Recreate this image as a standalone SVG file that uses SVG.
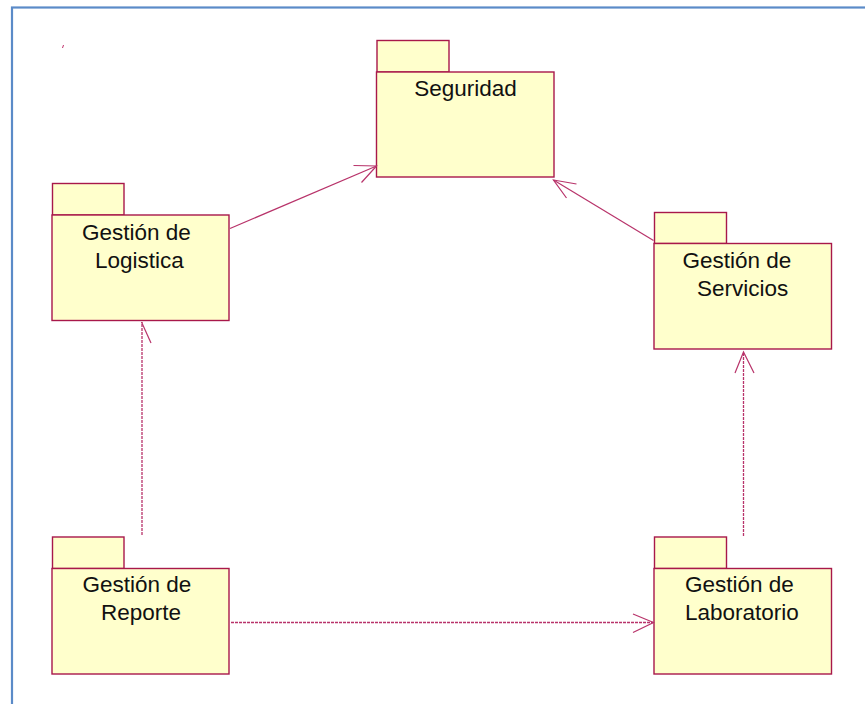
<svg xmlns="http://www.w3.org/2000/svg" width="865" height="704" viewBox="0 0 865 704">
<style>
.pkg{fill:#FFFFCC;stroke:#A8184A;stroke-width:1.4}
.lbl{font-family:"Liberation Sans",Arial,sans-serif;font-size:22.5px;fill:#111}
.con{fill:none;stroke:#B8336A;stroke-width:1.2}
.dot{fill:none;stroke:#B8336A;stroke-width:1.3;stroke-dasharray:3 1}
</style>
<rect x="0" y="0" width="865" height="704" fill="#FFFFFF"/>
<rect x="12" y="7.5" width="900" height="800" fill="none" stroke="#5B8BC8" stroke-width="2.2"/>
<line x1="62.5" y1="48" x2="63.5" y2="45" stroke="#C0306A" stroke-width="1"/>

<g id="seguridad">
<rect class="pkg" x="377" y="40.5" width="72" height="31.5"/>
<rect class="pkg" x="376.5" y="72" width="177.5" height="105"/>
<text class="lbl" x="465.5" y="96" text-anchor="middle">Seguridad</text>
</g>

<g id="logistica">
<rect class="pkg" x="52.5" y="183.5" width="71.5" height="31.5"/>
<rect class="pkg" x="52" y="215" width="177" height="105.5"/>
<text class="lbl" x="82" y="239.5">Gestión de</text>
<text class="lbl" x="95" y="267.5">Logistica</text>
</g>

<g id="servicios">
<rect class="pkg" x="654.5" y="212.5" width="72" height="31"/>
<rect class="pkg" x="654" y="243.5" width="177.5" height="105.5"/>
<text class="lbl" x="682.5" y="268">Gestión de</text>
<text class="lbl" x="697" y="296">Servicios</text>
</g>

<g id="reporte">
<rect class="pkg" x="52.5" y="537" width="71.5" height="31.5"/>
<rect class="pkg" x="52" y="568.5" width="177" height="105.5"/>
<text class="lbl" x="82.5" y="592">Gestión de</text>
<text class="lbl" x="101" y="620">Reporte</text>
</g>

<g id="laboratorio">
<rect class="pkg" x="654.5" y="537" width="72" height="31.5"/>
<rect class="pkg" x="654" y="568.5" width="177.5" height="105.5"/>
<text class="lbl" x="685" y="592">Gestión de</text>
<text class="lbl" x="685" y="620">Laboratorio</text>
</g>

<g id="connectors">
<line class="con" x1="230" y1="228.5" x2="376.5" y2="166"/>
<polyline class="con" points="353.5,165.5 376.5,166 361.5,182.5"/>
<line class="con" x1="653.5" y1="240.5" x2="553.5" y2="180"/>
<polyline class="con" points="576.5,184 553.5,180 566.5,198"/>
<line class="dot" x1="142" y1="535" x2="142" y2="322"/>
<line class="con" x1="141.5" y1="322" x2="151" y2="343"/>
<line class="dot" x1="743.5" y1="536" x2="743.5" y2="352"/>
<polyline class="con" points="735,373 743.5,352 754,373"/>
<line class="dot" x1="231" y1="622.5" x2="653" y2="622.5"/>
<polyline class="con" points="633,614 653.5,622.5 633,632.5"/>
</g>
</svg>
